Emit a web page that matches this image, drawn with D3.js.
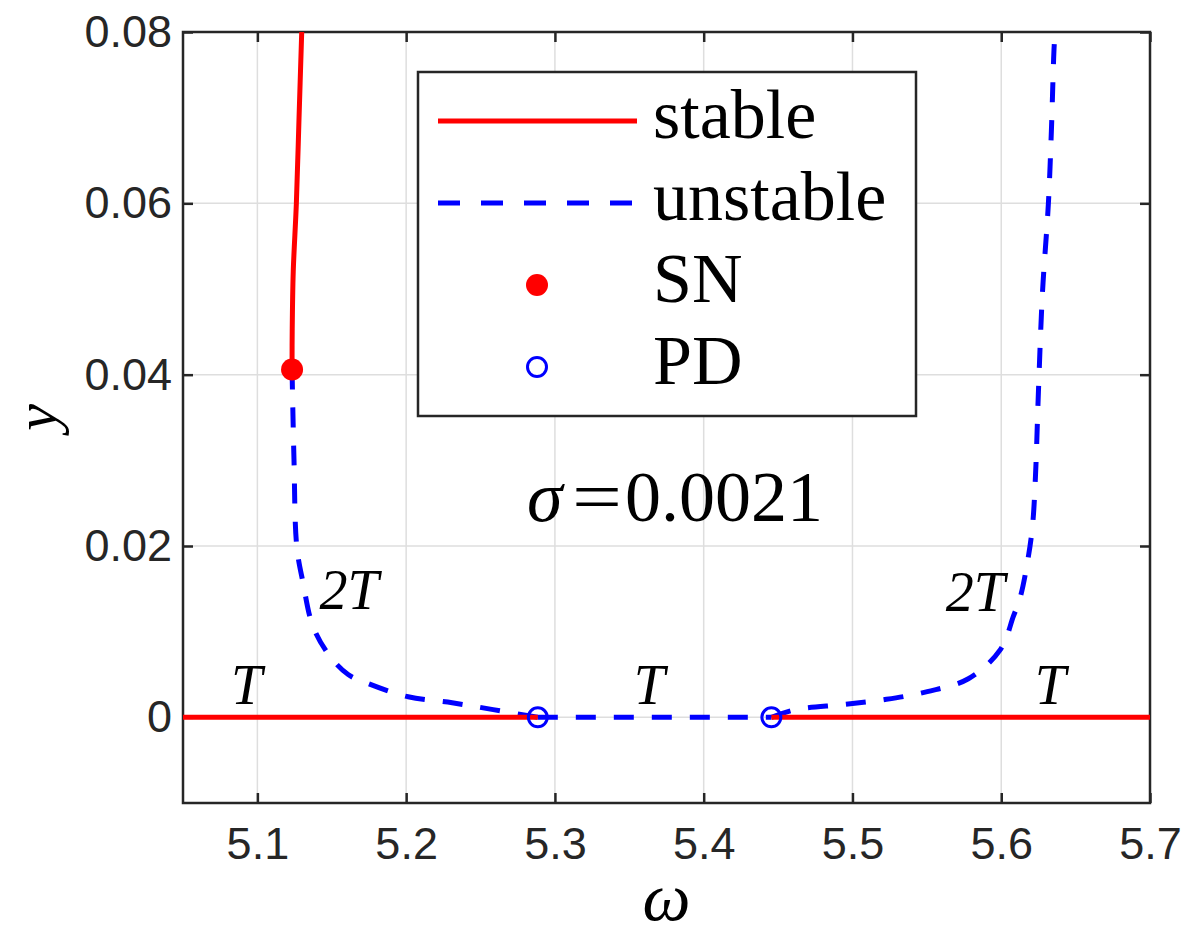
<!DOCTYPE html>
<html>
<head>
<meta charset="utf-8">
<script src="https://cdn.jsdelivr.net/npm/d3@7"></script>
<style>
  body { margin: 0; background: #fff; }
  .tick-lbl { font-family: "Liberation Sans", Arial, sans-serif; font-size: 45px; fill: #262626; }
  .math { font-family: "Liberation Serif", "DejaVu Serif", serif; fill: #000; }
</style>
</head>
<body>
<div id="chart"></div>
<script>
// data
var xTicks = [5.1, 5.2, 5.3, 5.4, 5.5, 5.6, 5.7],
    yTicks = [0, 0.02, 0.04, 0.06, 0.08];
var stableLeft = [[5.05, 0], [5.2885, 0]],
    stableRight = [[5.4455, 0], [5.7, 0]],
    stableUpper = [[5.1233, 0.0406], [5.1234, 0.045], [5.1241, 0.052], [5.1262, 0.06], [5.128, 0.07], [5.1298, 0.08]],
    unstableMid = [[5.2885, 0], [5.4455, 0]],
    unstableLeft = [[5.1233, 0.0406], [5.1246, 0.0301], [5.1265, 0.0199], [5.1307, 0.0157], [5.1374, 0.0106],
        [5.1489, 0.0071], [5.161, 0.005], [5.1737, 0.004], [5.2013, 0.0024], [5.2309, 0.0017],
        [5.2585, 0.0009], [5.2885, 0]],
    unstableRight = [[5.4455, 0], [5.4619, 0.0009], [5.4945, 0.0015], [5.5228, 0.0021], [5.5503, 0.003],
        [5.5779, 0.0045], [5.5994, 0.0079], [5.6082, 0.0118], [5.6129, 0.0141], [5.6176, 0.0181],
        [5.621, 0.0223], [5.623, 0.0281], [5.625, 0.038], [5.6277, 0.0495], [5.6317, 0.06],
        [5.6337, 0.0684], [5.6357, 0.0787], [5.6364, 0.08]],
    snPoints = [[5.1233, 0.0406]],
    pdPoints = [[5.2885, 0], [5.4455, 0]];
var periodLabels = [
        {text: "T", x: 5.0927, y: 0.0015},
        {text: "T", x: 5.3634, y: 0.0015},
        {text: "T", x: 5.633, y: 0.0015},
        {text: "2T", x: 5.1616, y: 0.0126},
        {text: "2T", x: 5.5826, y: 0.0124}
    ];

var width = 1189, height = 936,
    margin = {left: 183, right: 39, top: 32, bottom: 133},
    red = "#ff0000", blue = "#0000ff", axisCol = "#262626";

var svg = d3.select("#chart").append("svg")
    .attr("width", width)
    .attr("height", height);

var x = d3.scaleLinear().domain([5.05, 5.7]).range([margin.left, width - margin.right]),
    y = d3.scaleLinear().domain([-0.01, 0.08]).range([height - margin.bottom, margin.top]);

// grid
var grid = svg.append("g");
grid.selectAll(".gx").data(xTicks).enter().append("line")
    .attr("x1", function(d) { return x(d); }).attr("x2", function(d) { return x(d); })
    .attr("y1", y.range()[0]).attr("y2", y.range()[1])
    .attr("stroke", "#dedede").attr("stroke-width", 1.5);
grid.selectAll(".gy").data(yTicks).enter().append("line")
    .attr("y1", function(d) { return y(d); }).attr("y2", function(d) { return y(d); })
    .attr("x1", x.range()[0]).attr("x2", x.range()[1])
    .attr("stroke", "#dedede").attr("stroke-width", 1.5);

// axes (box with inward ticks)
function styleAxis(g) {
    g.select(".domain").remove();
    g.selectAll(".tick line").attr("stroke", axisCol).attr("stroke-width", 2.5);
    g.selectAll(".tick text").attr("class", "tick-lbl");
}
svg.append("g").attr("transform", "translate(0," + y.range()[0] + ")")
    .call(d3.axisBottom(x).tickValues(xTicks).tickSize(-10).tickPadding(24).tickFormat(d3.format(".1f")))
    .call(styleAxis);
svg.append("g").attr("transform", "translate(0," + y.range()[1] + ")")
    .call(d3.axisTop(x).tickValues(xTicks).tickSize(-10).tickFormat(""))
    .call(styleAxis);
svg.append("g").attr("transform", "translate(" + x.range()[0] + ",0)")
    .call(d3.axisLeft(y).tickValues(yTicks).tickSize(-10).tickPadding(11)
        .tickFormat(function(d) { return d === 0 ? "0" : d3.format(".2f")(d); }))
    .call(styleAxis);
svg.append("g").attr("transform", "translate(" + x.range()[1] + ",0)")
    .call(d3.axisRight(y).tickValues(yTicks).tickSize(-10).tickFormat(""))
    .call(styleAxis);
svg.selectAll(".tick-lbl").attr("font-size", null).attr("font-family", null).attr("fill", null);

svg.append("rect")
    .attr("x", x.range()[0]).attr("y", y.range()[1])
    .attr("width", x.range()[1] - x.range()[0]).attr("height", y.range()[0] - y.range()[1])
    .attr("fill", "none").attr("stroke", axisCol).attr("stroke-width", 2.5);

// curves
var line = d3.line()
    .x(function(d) { return x(d[0]); })
    .y(function(d) { return y(d[1]); })
    .curve(d3.curveCatmullRom.alpha(0.5));
var plot = svg.append("g");
[unstableMid, unstableLeft, unstableRight].forEach(function(s) {
    plot.append("path").datum(s).attr("d", line)
        .attr("fill", "none").attr("stroke", blue).attr("stroke-width", 5)
        .attr("stroke-dasharray", "20,18");
});
[stableLeft, stableRight, stableUpper].forEach(function(s) {
    plot.append("path").datum(s).attr("d", line)
        .attr("fill", "none").attr("stroke", red).attr("stroke-width", 5);
});
plot.selectAll(".sn").data(snPoints).enter().append("circle")
    .attr("cx", function(d) { return x(d[0]); }).attr("cy", function(d) { return y(d[1]); })
    .attr("r", 11).attr("fill", red);
plot.selectAll(".pd").data(pdPoints).enter().append("circle")
    .attr("cx", function(d) { return x(d[0]); }).attr("cy", function(d) { return y(d[1]); })
    .attr("r", 9.5).attr("fill", "none").attr("stroke", blue).attr("stroke-width", 3);

// annotations
svg.selectAll(".plbl").data(periodLabels).enter().append("text")
    .attr("class", "math")
    .attr("x", function(d) { return x(d.x); }).attr("y", function(d) { return y(d.y); })
    .attr("text-anchor", "middle")
    .attr("font-size", 56).attr("font-style", "italic")
    .text(function(d) { return d.text; });
var sig = svg.append("text").attr("class", "math")
    .attr("y", 521).attr("font-size", 72);
sig.append("tspan").attr("x", 527).attr("font-style", "italic").text("σ");
sig.append("tspan").attr("x", 572).attr("textLength", 50).attr("lengthAdjust", "spacingAndGlyphs").text("=");
sig.append("tspan").attr("x", 625).text("0.0021");

// legend
var legend = svg.append("g").attr("transform", "translate(418,72)");
legend.append("rect").attr("width", 498).attr("height", 344)
    .attr("fill", "#fff").attr("stroke", axisCol).attr("stroke-width", 2.5);
var legendItems = [
    {label: "stable", kind: "solid"},
    {label: "unstable", kind: "dash"},
    {label: "SN", kind: "dot"},
    {label: "PD", kind: "ring"}
];
legendItems.forEach(function(it, i) {
    var cy = 49 + i * 82;
    if (it.kind === "solid" || it.kind === "dash") {
        legend.append("line").attr("x1", 20).attr("x2", 219).attr("y1", cy).attr("y2", cy)
            .attr("stroke", it.kind === "solid" ? red : blue).attr("stroke-width", 5)
            .attr("stroke-dasharray", it.kind === "dash" ? "22,21" : null);
    } else if (it.kind === "dot") {
        legend.append("circle").attr("cx", 119).attr("cy", cy).attr("r", 11).attr("fill", red);
    } else {
        legend.append("circle").attr("cx", 119).attr("cy", cy).attr("r", 9.5)
            .attr("fill", "none").attr("stroke", blue).attr("stroke-width", 3);
    }
    legend.append("text").attr("class", "math")
        .attr("x", 235).attr("y", cy + 17).attr("font-size", 70)
        .text(it.label);
});

// axis labels
svg.append("text").attr("class", "math")
    .attr("x", (x.range()[0] + x.range()[1]) / 2).attr("y", 920)
    .attr("text-anchor", "middle").attr("font-size", 68).attr("font-style", "italic")
    .text("ω");
svg.append("text").attr("class", "math")
    .attr("transform", "translate(56," + ((y.range()[0] + y.range()[1]) / 2) + ") rotate(-90)")
    .attr("text-anchor", "middle").attr("font-size", 60).attr("font-style", "italic")
    .text("y");
</script>
</body>
</html>
